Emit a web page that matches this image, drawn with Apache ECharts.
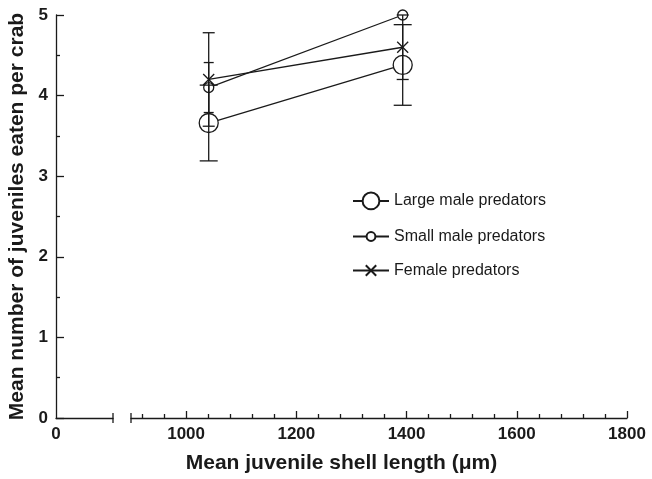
<!DOCTYPE html>
<html>
<head>
<meta charset="utf-8">
<script src="https://cdn.jsdelivr.net/npm/echarts@6/dist/echarts.min.js"></script>
<style>
html,body{margin:0;padding:0;background:#fff;}
#chart{width:652px;height:479px;}
</style>
</head>
<body>
<div id="chart"></div>
<script>
// ---- data ----
const xValues = [1041, 1393];                 // mean juvenile shell length (µm)
const largeMale = [3.66, 4.38];
const largeMaleErr = [0.47, 0.50];
const smallMale = [4.10, 5.00];
const smallMaleErr = [0.31, 0];
const female = [4.20, 4.60];
const femaleErr = [0.58, 0.40];
const seriesNames = ['Large male predators', 'Small male predators', 'Female predators'];
const xLeftLabels = [0];
const xMajorTicks = [1000, 1200, 1400, 1600, 1800];
const xMinorTicks = [920, 960, 1040, 1080, 1120, 1160, 1240, 1280, 1320, 1360,
                     1440, 1480, 1520, 1560, 1640, 1680, 1720, 1760];
const xTitle = 'Mean juvenile shell length (\u03bcm)';
const yTitle = 'Mean number of juveniles eaten per crab';

// ---- styling ----
const INK = '#1a1a1a';
const FONT = "'Liberation Sans', Arial, Helvetica, sans-serif";
const LW = 1.3;

function pts(vals) { return xValues.map((x, i) => [x, vals[i]]); }
function errs(vals, e) {
  return xValues.map((x, i) => [x, vals[i] - e[i], vals[i] + e[i], e[i]]);
}
function errRenderer(capHalf) {
  return function (params, api) {
    if (api.value(3) === 0) return null;
    const x = api.value(0);
    const pLo = api.coord([x, api.value(1)]);
    const pHi = api.coord([x, api.value(2)]);
    const style = { stroke: INK, lineWidth: LW, fill: null };
    return {
      type: 'group',
      children: [
        { type: 'line', shape: { x1: pLo[0], y1: pLo[1], x2: pHi[0], y2: pHi[1] }, style: style },
        { type: 'line', shape: { x1: pLo[0] - capHalf, y1: pLo[1], x2: pLo[0] + capHalf, y2: pLo[1] }, style: style },
        { type: 'line', shape: { x1: pHi[0] - capHalf, y1: pHi[1], x2: pHi[0] + capHalf, y2: pHi[1] }, style: style }
      ]
    };
  };
}

const plain = v => String(v);
const tickLabelStyle = { fontFamily: FONT, fontWeight: 'bold', fontSize: 17, color: INK, formatter: plain };
const titleStyle = { fontFamily: FONT, fontWeight: 'bold', fontSize: 21, color: INK };
const legendText = { fontFamily: FONT, fontSize: 16, color: INK, lineHeight: 16 };
const crossPath = 'path://M0,0L10,10M10,0L0,10';

const chart = echarts.init(document.getElementById('chart'), null, { renderer: 'canvas' });

const option = {
  animation: false,
  backgroundColor: '#fff',
  grid: [
    { left: 56, width: 57, top: 15, bottom: 61 },
    { left: 131, right: 25, top: 15, bottom: 61 },
    { left: 56, right: 25, top: 15, bottom: 61 }
  ],
  xAxis: [
    { // left short segment (0 ...)
      gridIndex: 0, type: 'value', min: 0, max: 100, position: 'bottom',
      axisLine: { show: true, onZero: false, lineStyle: { color: INK, width: LW }, symbol: ['none', 'rect'], symbolSize: [10, LW] },
      axisTick: { show: false },
      axisLabel: { show: true, customValues: xLeftLabels, margin: 8, ...tickLabelStyle },
      splitLine: { show: false } },
    { // main segment 900-1800
      gridIndex: 1, type: 'value', min: 900, max: 1800, position: 'bottom',
      axisLine: { show: true, onZero: false, lineStyle: { color: INK, width: LW }, symbol: ['rect', 'none'], symbolSize: [10, LW] },
      axisTick: { show: true, inside: true, length: 7, customValues: xMajorTicks, lineStyle: { color: INK, width: LW } },
      axisLabel: { show: true, customValues: xMajorTicks, margin: 8, ...tickLabelStyle },
      splitLine: { show: false } },
    { // minor ticks on main segment
      gridIndex: 1, type: 'value', min: 900, max: 1800, position: 'bottom',
      axisLine: { show: false, onZero: false },
      axisTick: { show: true, inside: true, length: 4, customValues: xMinorTicks, lineStyle: { color: INK, width: LW } },
      axisLabel: { show: false },
      splitLine: { show: false } },
    { // full-width holder for the axis title
      gridIndex: 2, type: 'value', min: 0, max: 1, position: 'bottom',
      axisLine: { show: false, onZero: false }, axisTick: { show: false }, axisLabel: { show: false }, splitLine: { show: false },
      name: xTitle, nameLocation: 'middle', nameGap: 37, nameTextStyle: titleStyle }
  ],
  yAxis: [
    { gridIndex: 0, type: 'value', min: 0, max: 5, interval: 1,
      axisLine: { show: true, onZero: false, lineStyle: { color: INK, width: LW } },
      axisTick: { show: true, inside: true, length: 8, lineStyle: { color: INK, width: LW } },
      minorTick: { show: true, splitNumber: 2, length: 4, lineStyle: { color: INK, width: LW } },
      axisLabel: { show: true, margin: 8, ...tickLabelStyle },
      splitLine: { show: false },
      name: yTitle, nameLocation: 'middle', nameGap: 28, nameTextStyle: titleStyle },
    { gridIndex: 1, type: 'value', min: 0, max: 5, show: false },
    { gridIndex: 2, type: 'value', min: 0, max: 5, show: false }
  ],
  legend: [
    { data: [seriesNames[0]], left: 352, top: 191.5, padding: 0, itemWidth: 36, itemHeight: 21, selectedMode: false, textStyle: legendText },
    { data: [seriesNames[1]], left: 352, top: 228.5, padding: 0, itemWidth: 36, itemHeight: 11, selectedMode: false, textStyle: legendText },
    { data: [seriesNames[2]], left: 352, top: 262.5, padding: 0, itemWidth: 36, itemHeight: 13, selectedMode: false, textStyle: legendText }
  ],
  series: [
    { name: seriesNames[0], type: 'line', xAxisIndex: 1, yAxisIndex: 1, z: 2,
      data: pts(largeMale), symbol: 'circle', symbolSize: 19,
      itemStyle: { color: '#fff', borderColor: INK, borderWidth: LW },
      lineStyle: { color: INK, width: LW } },
    { name: seriesNames[1], type: 'line', xAxisIndex: 1, yAxisIndex: 1, z: 2,
      data: pts(smallMale), symbol: 'circle', symbolSize: 10,
      itemStyle: { color: '#fff', borderColor: INK, borderWidth: LW },
      lineStyle: { color: INK, width: LW } },
    { name: seriesNames[2], type: 'line', xAxisIndex: 1, yAxisIndex: 1, z: 2,
      data: pts(female), symbol: crossPath, symbolSize: 11,
      itemStyle: { color: '#fff', borderColor: INK, borderWidth: LW },
      lineStyle: { color: INK, width: LW } },
    { type: 'custom', xAxisIndex: 1, yAxisIndex: 1, z: 3, renderItem: errRenderer(9), data: errs(largeMale, largeMaleErr) },
    { type: 'custom', xAxisIndex: 1, yAxisIndex: 1, z: 3, renderItem: errRenderer(5), data: errs(smallMale, smallMaleErr) },
    { type: 'custom', xAxisIndex: 1, yAxisIndex: 1, z: 3, renderItem: errRenderer(6), data: errs(female, femaleErr) }
  ]
};
chart.setOption(option);
</script>
</body>
</html>
